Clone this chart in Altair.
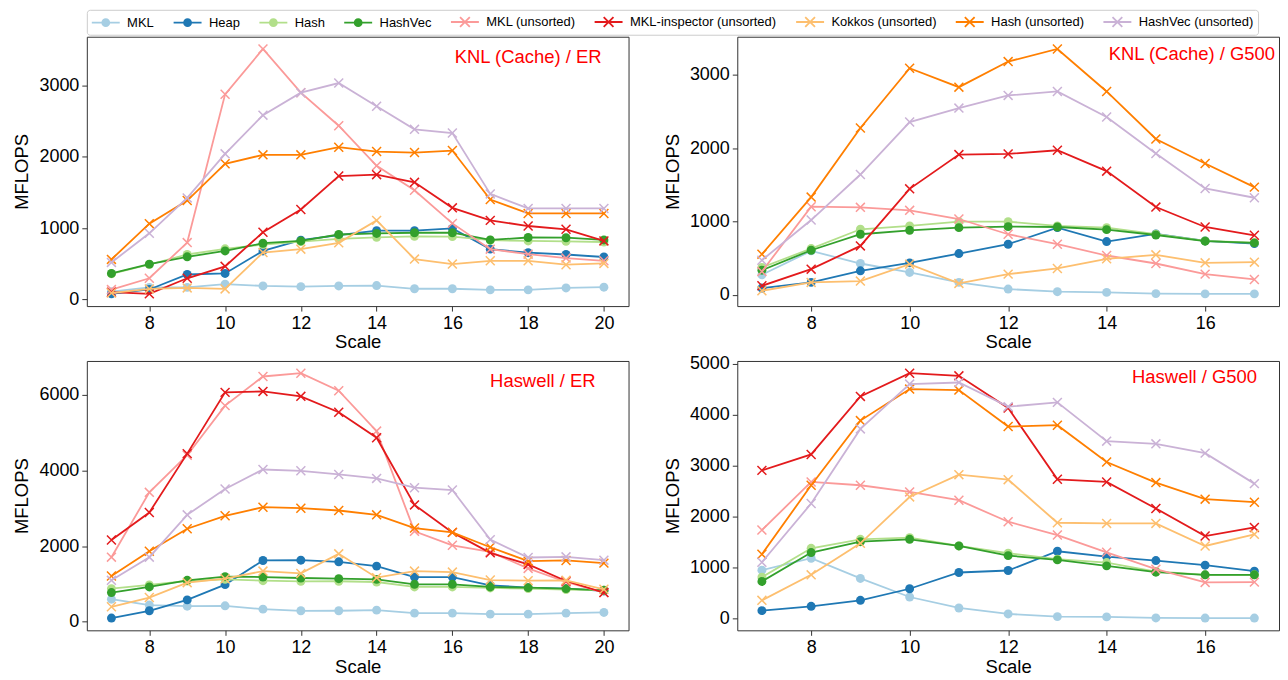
import altair as alt
import pandas as pd

SERIES = ["MKL", "Heap", "Hash", "HashVec", "MKL (unsorted)",
          "MKL-inspector (unsorted)", "Kokkos (unsorted)", "Hash (unsorted)",
          "HashVec (unsorted)"]
COLORS = ["#a6cee3", "#1f78b4", "#b2df8a", "#33a02c", "#fb9a99",
          "#e31a1c", "#fdbf6f", "#ff7f00", "#cab2d6"]
SORTED = SERIES[:4]

scales_er = list(range(7, 21))
scales_g500 = list(range(7, 18))

knl_er = {
    "MKL": [110, 170, 170, 215, 190, 180, 190, 195, 150, 150, 135, 135, 162, 172],
    "Heap": [80, 140, 350, 365, 680, 830, 900, 965, 965, 995, 705, 655, 630, 595],
    "Hash": [360, 490, 630, 710, 770, 810, 850, 870, 885, 880, 830, 820, 815, 805],
    "HashVec": [365, 495, 598, 680, 788, 820, 910, 925, 935, 935, 834, 868, 865, 834],
    "MKL (unsorted)": [139, 297, 797, 2874, 3509, 2897, 2434, 1873, 1530, 1066, 705, 635, 580, 542],
    "MKL-inspector (unsorted)": [102, 79, 297, 464, 941, 1261, 1729, 1748, 1641, 1284, 1108, 1029, 983, 820],
    "Kokkos (unsorted)": [90, 148, 162, 148, 658, 705, 793, 1108, 566, 496, 542, 542, 487, 505],
    "Hash (unsorted)": [561, 1062, 1386, 1901, 2026, 2026, 2133, 2072, 2058, 2086, 1400, 1205, 1205, 1205],
    "HashVec (unsorted)": [519, 927, 1423, 2040, 2582, 2897, 3032, 2707, 2383, 2332, 1479, 1275, 1275, 1275],
}

knl_g500 = {
    "MKL": [272, 598, 426, 304, 168, 77, 41, 32, 15, 12, 12],
    "Heap": [91, 168, 326, 435, 562, 689, 915, 725, 830, 734, 698],
    "Hash": [372, 630, 893, 938, 997, 997, 938, 915, 825, 734, 711],
    "HashVec": [335, 607, 825, 879, 915, 929, 924, 888, 815, 730, 707],
    "MKL (unsorted)": [317, 1201, 1192, 1151, 1033, 825, 689, 535, 426, 281, 208],
    "MKL-inspector (unsorted)": [122, 349, 666, 1445, 1912, 1921, 1971, 1686, 1196, 924, 811],
    "Kokkos (unsorted)": [54, 168, 186, 417, 154, 281, 358, 489, 544, 435, 444],
    "Hash (unsorted)": [553, 1332, 2275, 3090, 2832, 3181, 3353, 2773, 2125, 1790, 1468],
    "HashVec (unsorted)": [471, 1019, 1640, 2356, 2546, 2719, 2773, 2424, 1926, 1450, 1323],
}

haswell_er = {
    "MKL": [595, 440, 410, 420, 332, 289, 290, 306, 227, 227, 201, 201, 227, 245],
    "Heap": [96, 289, 577, 980, 1619, 1627, 1584, 1470, 1181, 1181, 962, 901, 875, 814],
    "Hash": [875, 971, 1076, 1120, 1085, 1067, 1070, 1050, 919, 919, 892, 875, 849, 831],
    "HashVec": [770, 919, 1094, 1190, 1181, 1155, 1137, 1120, 989, 989, 919, 901, 875, 831],
    "MKL (unsorted)": [1706, 3421, 4401, 5713, 6483, 6570, 6107, 5039, 2389, 2021, 1846, 1409, 1050, 770],
    "MKL-inspector (unsorted)": [2161, 2887, 4444, 6063, 6089, 5958, 5538, 4864, 3088, 2362, 1820, 1514, 1076, 770],
    "Kokkos (unsorted)": [394, 639, 1032, 1137, 1339, 1277, 1794, 1164, 1339, 1312, 1102, 1085, 1094, 857],
    "Hash (unsorted)": [1207, 1864, 2458, 2800, 3027, 3001, 2940, 2826, 2476, 2362, 1969, 1601, 1619, 1549],
    "HashVec (unsorted)": [1094, 1706, 2826, 3508, 4024, 3990, 3893, 3788, 3543, 3482, 2170, 1697, 1715, 1627],
}

haswell_g500 = {
    "MKL": [949, 1183, 787, 423, 208, 91, 39, 33, 13, 10, 10],
    "Heap": [156, 241, 358, 585, 904, 943, 1320, 1216, 1138, 1047, 930],
    "Hash": [813, 1378, 1554, 1586, 1424, 1281, 1164, 1099, 923, 858, 858],
    "HashVec": [728, 1294, 1508, 1554, 1424, 1235, 1151, 1034, 910, 858, 858],
    "MKL (unsorted)": [1736, 2679, 2614, 2484, 2321, 1899, 1638, 1300, 969, 709, 715],
    "MKL-inspector (unsorted)": [2906, 3218, 4356, 4811, 4759, 4129, 2731, 2679, 2159, 1619, 1788],
    "Kokkos (unsorted)": [358, 858, 1476, 2386, 2822, 2724, 1879, 1866, 1866, 1424, 1652],
    "Hash (unsorted)": [1261, 2614, 3882, 4499, 4480, 3765, 3791, 3069, 2666, 2341, 2282],
    "HashVec (unsorted)": [1105, 2256, 3719, 4597, 4629, 4155, 4239, 3478, 3426, 3244, 2646],
}

FONT = "Liberation Sans"
X_PATH = "M-1,-1L1,1M-1,1L1,-1"
LEG_CIRCLE = "M-2,0H2M-0.5,0A0.5,0.5 0 1,0 0.5,0A0.5,0.5 0 1,0 -0.5,0"
LEG_X = "M-2,0H2M-0.7,-0.7L0.7,0.7M-0.7,0.7L0.7,-0.7"

W, H = 543, 270

legend = alt.Legend(
    title=None, orient="top", direction="horizontal", gridAlign="each",
    symbolSize=196, symbolOffset=7, labelOffset=13.4, columnPadding=15,
    labelFont=FONT, labelFontSize=13, labelColor="#000", labelLimit=400,
    padding=4, strokeColor="#cccccc", cornerRadius=3, fillColor="white",
    offset=1, symbolStrokeWidth=1.8,
)


def panel(scales, data, label, dx, dy, yticks, with_legend=False):
    rows = [{"Scale": s, "MFLOPS": v, "series": name}
            for name in SERIES for s, v in zip(scales, data[name])]
    df = pd.DataFrame(rows)
    ymin, ymax = df.MFLOPS.min(), df.MFLOPS.max()
    ypad = 0.05 * (ymax - ymin)
    xmin, xmax = min(scales), max(scales)
    xpad = 0.05 * (xmax - xmin)
    x = alt.X("Scale:Q",
              scale=alt.Scale(domain=[xmin - xpad, xmax + xpad], nice=False, zero=False),
              axis=alt.Axis(values=list(range(8, xmax + 1, 2)), title="Scale", format="d"))
    y = alt.Y("MFLOPS:Q",
              scale=alt.Scale(domain=[ymin - ypad, ymax + ypad], nice=False, zero=False),
              axis=alt.Axis(values=yticks, title="MFLOPS", format="d"))
    layers = []
    for name, col in zip(SERIES, COLORS):
        base = alt.Chart().transform_filter(alt.datum.series == name)
        layers.append(base.mark_line(strokeWidth=1.8, color=col).encode(x=x, y=y))
        if name in SORTED:
            pt = base.mark_point(shape="circle", filled=True, size=80, opacity=1, color=col)
        else:
            pt = base.mark_point(shape=X_PATH, filled=False, size=80, strokeWidth=1.5,
                                 opacity=1, color=col)
        layers.append(pt.encode(x=x, y=y))
    if with_legend:
        leg_layer = alt.Chart().transform_filter("false").mark_point(
            opacity=1, strokeWidth=1.8
        ).encode(
            x=x, y=y,
            fill=alt.Fill("series:N", scale=alt.Scale(domain=SERIES, range=COLORS), legend=legend),
            stroke=alt.Stroke("series:N", scale=alt.Scale(domain=SERIES, range=COLORS), legend=legend),
            shape=alt.Shape("series:N",
                            scale=alt.Scale(domain=SERIES, range=[LEG_CIRCLE] * 4 + [LEG_X] * 5),
                            legend=legend),
        )
        layers.append(leg_layer)
    txt = alt.Chart(pd.DataFrame({"t": [label]})).mark_text(
        align="right", baseline="alphabetic", font=FONT, fontSize=18.5, color="#ff0000"
    ).encode(text="t:N", x=alt.value(W - dx), y=alt.value(dy))
    layers.append(txt)
    return alt.layer(*layers, data=df).properties(width=W, height=H)


p1 = panel(scales_er, knl_er, "KNL (Cache) / ER", 27, 26, [0, 1000, 2000, 3000], True)
p2 = panel(scales_g500, knl_g500, "KNL (Cache) / G500", 4, 23, [0, 1000, 2000, 3000])
p3 = panel(scales_er, haswell_er, "Haswell / ER", 33, 26, [0, 2000, 4000, 6000])
p4 = panel(scales_g500, haswell_g500, "Haswell / G500", 22, 22, [0, 1000, 2000, 3000, 4000, 5000])

chart = alt.concat(p1, p2, p3, p4, columns=2,
                   spacing={"row": 55, "column": 109}).properties(
    bounds="flush",
    padding={"left": 4, "top": 0, "right": 0, "bottom": 0},
).configure_axis(
    labelFont=FONT, titleFont=FONT, labelFontSize=18, titleFontSize=18.5,
    labelColor="#000", titleColor="#000", titleFontWeight="normal",
    grid=False, domain=False, tickColor="#333", tickSize=5, tickWidth=1,
    labelPadding=3,
).configure_axisX(titlePadding=1).configure_axisY(titlePadding=7).configure_view(
    stroke="#333", strokeWidth=1
)

chart.save("out.html", embed_options={"renderer": "svg", "actions": False})
